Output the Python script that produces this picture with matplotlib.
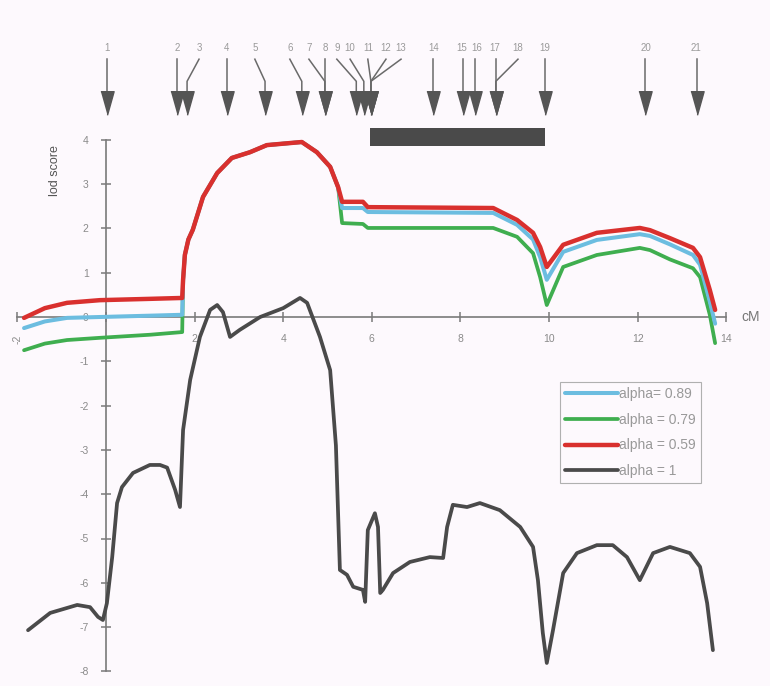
import matplotlib
matplotlib.use("Agg")
import matplotlib.pyplot as plt

plt.rcParams["font.family"] = ["Liberation Sans", "DejaVu Sans"]
plt.rcParams["axes.unicode_minus"] = False

# lod score curves (x in cM)
left_x = [-1.85, -1.38, -0.88, -0.14, 1.00, 1.72]
red_left = [-0.02, 0.20, 0.32, 0.38, 0.41, 0.43]
blue_left = [-0.25, -0.10, -0.02, 0.00, 0.03, 0.05]
green_left = [-0.75, -0.60, -0.52, -0.47, -0.40, -0.34]

# common hump (the three curves coincide here)
hump_x = [1.74, 1.78, 1.86, 1.96, 2.19, 2.51, 2.84, 3.25, 3.63, 4.42, 4.76, 5.06, 5.24]
hump_y = [0.84, 1.40, 1.75, 1.97, 2.71, 3.25, 3.59, 3.72, 3.88, 3.95, 3.72, 3.39, 2.93]

tail_x = [5.33, 5.80, 5.91, 8.74, 9.28, 9.64, 9.80, 9.95, 10.32, 11.08, 12.05,
          12.28, 12.73, 13.25, 13.41, 13.63, 13.75]
red_tail = [2.60, 2.60, 2.48, 2.46, 2.19, 1.90, 1.58, 1.13, 1.63, 1.90, 2.01,
            1.96, 1.78, 1.56, 1.35, 0.61, 0.16]
blue_tail = [2.46, 2.46, 2.37, 2.35, 2.08, 1.75, 1.35, 0.84, 1.47, 1.74, 1.87,
             1.83, 1.64, 1.40, 1.18, 0.35, -0.15]
green_tail = [2.12, 2.10, 2.01, 2.01, 1.81, 1.44, 0.90, 0.27, 1.13, 1.40, 1.56,
              1.51, 1.30, 1.10, 0.90, 0.05, -0.59]

black_x = [-1.76, -1.26, -0.65, -0.36, -0.18, -0.07, 0.02, 0.14, 0.25, 0.36,
           0.61, 0.99, 1.22, 1.38, 1.56, 1.67, 1.74, 1.90, 2.12, 2.35, 2.51,
           2.64, 2.80, 3.02, 3.48, 4.00, 4.38, 4.54, 4.83, 5.06, 5.19, 5.28,
           5.44, 5.58, 5.80, 5.85, 5.91, 6.07, 6.14, 6.19, 6.25, 6.48, 6.86,
           7.31, 7.61, 7.70, 7.83, 8.15, 8.44, 8.89, 9.35, 9.64, 9.75, 9.86,
           9.95, 10.09, 10.32, 10.63, 11.08, 11.44, 11.76, 12.05, 12.35, 12.73,
           13.18, 13.41, 13.57, 13.70]
black_y = [-7.07, -6.68, -6.50, -6.55, -6.77, -6.84, -6.46, -5.42, -4.20, -3.84,
           -3.52, -3.34, -3.34, -3.40, -3.90, -4.29, -2.55, -1.42, -0.45, 0.16,
           0.27, 0.11, -0.45, -0.29, 0.00, 0.20, 0.43, 0.32, -0.45, -1.20, -2.90,
           -5.71, -5.82, -6.09, -6.16, -6.43, -4.81, -4.43, -4.74, -6.23, -6.16,
           -5.78, -5.53, -5.42, -5.44, -4.74, -4.24, -4.29, -4.20, -4.36, -4.74,
           -5.19, -5.94, -7.13, -7.81, -7.07, -5.78, -5.33, -5.15, -5.15, -5.42,
           -5.94, -5.33, -5.19, -5.33, -5.64, -6.46, -7.52]

# markers along the top
marker_ids = list(range(1, 22))
label_x = [0.02, 1.60, 2.10, 2.71, 3.36, 4.15, 4.58, 4.94, 5.21, 5.51, 5.91,
           6.32, 6.66, 7.40, 8.04, 8.37, 8.78, 9.30, 9.91, 12.19, 13.32]
head_x = [0.02, 1.60, 1.83, 2.73, 3.59, 4.42, 4.94, 4.94, 5.65, 5.82, 5.98,
          5.98, 5.98, 7.38, 8.06, 8.33, 8.80, 8.80, 9.91, 12.17, 13.34]

region_start, region_end = 5.96, 9.91

labels = ["alpha= 0.89", "alpha = 0.79", "alpha = 0.59", "alpha = 1"]
colors = ["#6cbde0", "#3fae4f", "#d9302e", "#4a4a4a"]

fig = plt.figure(figsize=(7.7, 6.86), dpi=100)
fig.patch.set_facecolor("#fdf9fd")
ax = fig.add_axes([0, 0, 1, 1])
ax.set_facecolor("#fdf9fd")
ax.set_xlim(-106 / 44.3, 664 / 44.3)
ax.set_ylim(-369 / 44.3, 317 / 44.3)

style = dict(solid_joinstyle="round", solid_capstyle="round")
l_black, = ax.plot(black_x, black_y, color=colors[3], lw=2.7, zorder=3, **style)
l_green, = ax.plot(left_x + hump_x + tail_x, green_left + hump_y + green_tail,
                   color=colors[1], lw=2.7, zorder=4, **style)
l_blue, = ax.plot(left_x + hump_x + tail_x, blue_left + hump_y + blue_tail,
                  color=colors[0], lw=2.9, zorder=5, **style)
l_red, = ax.plot(left_x + hump_x + tail_x, red_left + hump_y + red_tail,
                 color=colors[2], lw=3.2, zorder=6, **style)

# region bar
ax.barh(4.06, region_end - region_start, left=region_start, height=0.4,
        color="#4a4a4a", zorder=4)

# arrows
for lab, lx, hx in zip(marker_ids, label_x, head_x):
    ax.text(lx, 6.08, str(lab), ha="center", va="center", fontsize=7,
            color="#9a9a9a")
    if abs(lx - hx) < 0.05:
        ax.plot([hx, hx], [5.82, 5.05], color="#6a6a6a", lw=1.1)
    else:
        ax.plot([lx, hx, hx], [5.82, 5.32, 5.05], color="#6a6a6a", lw=1.1)
head = [(-0.28, 0.5), (0.28, 0.5), (0, -0.5)]
ax.plot(head_x, [4.83] * len(head_x), ls="none", marker=head, ms=17,
        color="#555555", mec="#555555")

# axes through the origin
for s in ["top", "right"]:
    ax.spines[s].set_visible(False)
ax.spines["left"].set_position(("data", 0))
ax.spines["bottom"].set_position(("data", 0))
ax.spines["left"].set_bounds(-8, 4)
ax.spines["bottom"].set_bounds(-2, 14)
for s in ["left", "bottom"]:
    ax.spines[s].set_color("#7a7a7a")
    ax.spines[s].set_linewidth(1.2)
    ax.spines[s].set_zorder(2)

ax.set_xticks(range(-2, 15, 2))
ax.set_xticklabels(["-2", "", "2", "4", "6", "8", "10", "12", "14"])
ax.set_yticks(range(-8, 5))
ax.tick_params(direction="inout", length=7, width=1.1, color="#7a7a7a",
               labelsize=7.5, labelcolor="#8a8a8a", pad=9)
ax.get_xticklabels()[0].set_rotation(90)

ax.text(-1.15, 3.3, "lod score", rotation=90, ha="center", va="center",
        fontsize=9, color="#555555")
ax.text(14.55, 0.0, "cM", ha="center", va="center", fontsize=10,
        color="#777777")

leg = ax.legend([l_blue, l_green, l_red, l_black], labels, loc="upper left",
                bbox_to_anchor=(560 / 770, 1 - 382 / 686), borderaxespad=0,
                fontsize=10, handlelength=3.8, handletextpad=0.1,
                labelspacing=0.85, borderpad=0.35, fancybox=False,
                framealpha=1, facecolor="#fdf9fd", edgecolor="#b0b0b0")
leg.get_frame().set_linewidth(0.8)
for t in leg.get_texts():
    t.set_color("#999999")

fig.savefig("out.png", dpi=100, facecolor=fig.get_facecolor())
